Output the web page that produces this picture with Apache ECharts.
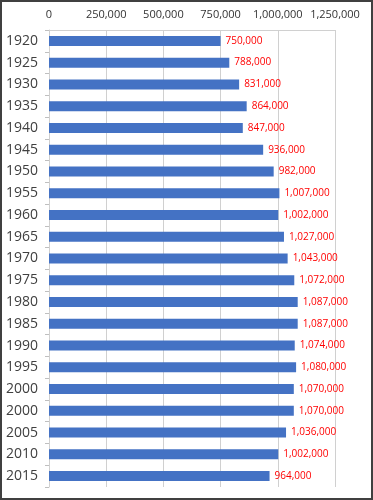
<!DOCTYPE html>
<html>
<head>
<meta charset="utf-8">
<script src="https://cdn.jsdelivr.net/npm/echarts@6/dist/echarts.min.js"></script>
<style>
html,body{margin:0;padding:0;background:#fff;}
#chart{width:373px;height:500px;}
</style>
</head>
<body>
<div id="chart"></div>
<script>
var categories = ["1920","1925","1930","1935","1940","1945","1950","1955","1960","1965","1970","1975","1980","1985","1990","1995","2000","2000","2005","2010","2015"];
var values = [750000,788000,831000,864000,847000,936000,982000,1007000,1002000,1027000,1043000,1072000,1087000,1087000,1074000,1080000,1070000,1070000,1036000,1002000,964000];
var xTicks = [0,250000,500000,750000,1000000,1250000];

function fmt(v){ return String(v).replace(/\B(?=(\d{3})+(?!\d))/g, ","); }

var chart = echarts.init(document.getElementById('chart'), null, {renderer:'canvas'});
chart.setOption({
  animation:false,
  backgroundColor:'#ffffff',
  grid:{left:49, top:30, width:286, height:457, containLabel:false},
  graphic:[{type:'rect', shape:{x:1,y:1,width:371,height:498}, style:{fill:'none', stroke:'#404040', lineWidth:2}, silent:true}],
  xAxis:{
    type:'value', position:'top', min:xTicks[0], max:xTicks[xTicks.length-1], interval:250000,
    axisLine:{show:true, lineStyle:{color:'#D0D0D0', width:1}},
    axisTick:{show:false},
    splitLine:{show:true, lineStyle:{color:'#D0D0D0', width:1}},
    axisLabel:{formatter:function(v){return fmt(v);}, color:'#333333', fontSize:11, fontFamily:'Open Sans', margin:10}
  },
  yAxis:{
    type:'category', inverse:true, data:categories,
    axisLine:{show:true, lineStyle:{color:'#D0D0D0', width:1}},
    axisTick:{show:true, length:4, lineStyle:{color:'#BFBFBF'}},
    axisLabel:{color:'#404040', fontSize:14, fontFamily:'Open Sans', margin:11, interval:0}
  },
  series:[{
    type:'bar', data:values, barWidth:10,
    itemStyle:{color:'#4472C4'},
    label:{show:true, position:'right', distance:5, color:'#FF0000', fontSize:10, fontFamily:'Open Sans',
      formatter:function(p){return fmt(p.value);}}
  }]
});
</script>
</body>
</html>
